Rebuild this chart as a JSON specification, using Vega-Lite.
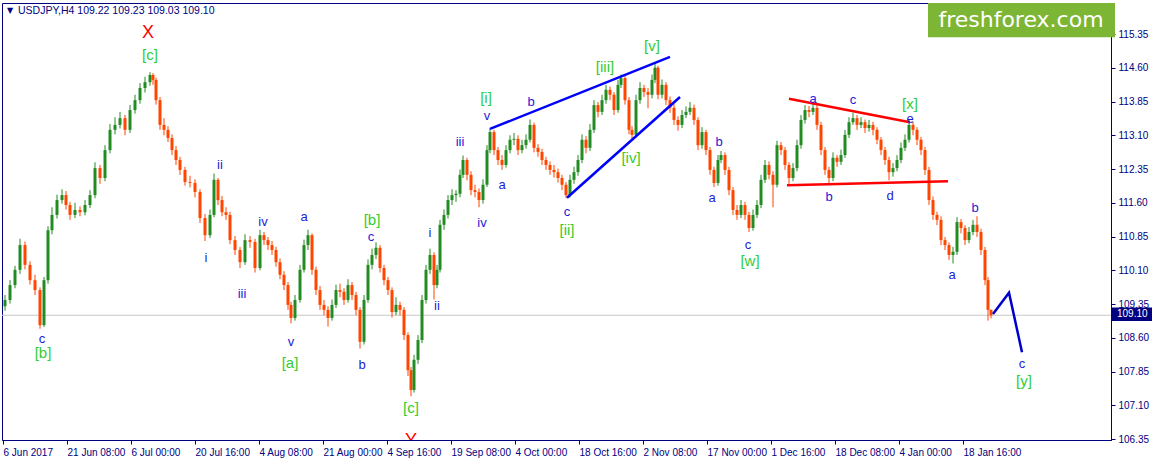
{
"$schema": "https://vega.github.io/schema/vega-lite/v6.json",
"width": 1109, "height": 437,
"autosize": {"type": "none"},
"padding": {"left": 2, "top": 3, "right": 44, "bottom": 22},
"background": "white",
"config": {"view": {"stroke": "#000080", "strokeWidth": 1}, "text": {"font": "Liberation Sans"}, "axis": {"labelOverlap": false, "labelBound": false, "labelSeparation": 0}},
"datasets": {
"hline": [{"bar": 2, "price": 109.10}, {"bar": 1111, "price": 109.10}],
"candles": [
{"bar":5,"o":109.30,"h":109.55,"l":109.20,"c":109.44},
{"bar":10,"o":109.44,"h":109.88,"l":109.36,"c":109.77},
{"bar":15,"o":109.77,"h":110.20,"l":109.70,"c":110.11},
{"bar":20,"o":110.11,"h":110.80,"l":110.02,"c":110.66},
{"bar":25,"o":110.66,"h":110.74,"l":110.12,"c":110.22},
{"bar":30,"o":110.22,"h":110.30,"l":109.78,"c":109.88},
{"bar":35,"o":109.88,"h":110.00,"l":109.55,"c":109.66},
{"bar":40,"o":109.66,"h":109.72,"l":108.80,"c":108.88},
{"bar":44,"o":108.88,"h":109.95,"l":108.84,"c":109.88},
{"bar":48,"o":109.88,"h":111.08,"l":109.80,"c":110.99},
{"bar":52,"o":110.99,"h":111.50,"l":110.90,"c":111.33},
{"bar":57,"o":111.33,"h":111.78,"l":111.25,"c":111.66},
{"bar":62,"o":111.66,"h":111.90,"l":111.58,"c":111.77},
{"bar":66,"o":111.77,"h":111.86,"l":111.45,"c":111.55},
{"bar":70,"o":111.55,"h":111.62,"l":111.22,"c":111.33},
{"bar":75,"o":111.33,"h":111.60,"l":111.26,"c":111.44},
{"bar":80,"o":111.44,"h":111.52,"l":111.30,"c":111.39},
{"bar":85,"o":111.39,"h":111.66,"l":111.32,"c":111.55},
{"bar":90,"o":111.55,"h":111.88,"l":111.48,"c":111.77},
{"bar":95,"o":111.77,"h":112.50,"l":111.70,"c":112.37},
{"bar":100,"o":112.37,"h":112.44,"l":112.02,"c":112.15},
{"bar":105,"o":112.15,"h":112.88,"l":112.08,"c":112.77},
{"bar":110,"o":112.77,"h":113.35,"l":112.70,"c":113.22},
{"bar":115,"o":113.22,"h":113.50,"l":113.12,"c":113.33},
{"bar":120,"o":113.33,"h":113.62,"l":113.25,"c":113.48},
{"bar":125,"o":113.48,"h":113.55,"l":113.10,"c":113.22},
{"bar":130,"o":113.22,"h":113.77,"l":113.15,"c":113.66},
{"bar":135,"o":113.66,"h":114.00,"l":113.58,"c":113.88},
{"bar":140,"o":113.88,"h":114.26,"l":113.80,"c":114.15},
{"bar":145,"o":114.15,"h":114.40,"l":114.05,"c":114.28},
{"bar":150,"o":114.28,"h":114.50,"l":114.20,"c":114.44},
{"bar":153,"o":114.44,"h":114.48,"l":114.22,"c":114.33},
{"bar":156,"o":114.33,"h":114.38,"l":113.78,"c":113.88},
{"bar":160,"o":113.88,"h":113.95,"l":113.22,"c":113.33},
{"bar":164,"o":113.33,"h":113.48,"l":113.10,"c":113.22},
{"bar":168,"o":113.22,"h":113.30,"l":112.95,"c":113.04},
{"bar":172,"o":113.04,"h":113.12,"l":112.66,"c":112.77},
{"bar":176,"o":112.77,"h":112.86,"l":112.44,"c":112.55},
{"bar":180,"o":112.55,"h":112.62,"l":112.22,"c":112.33},
{"bar":185,"o":112.33,"h":112.40,"l":111.98,"c":112.06},
{"bar":190,"o":112.06,"h":112.20,"l":111.94,"c":112.04},
{"bar":195,"o":112.04,"h":112.12,"l":111.72,"c":111.84},
{"bar":200,"o":111.84,"h":111.90,"l":111.15,"c":111.26},
{"bar":205,"o":111.26,"h":111.35,"l":110.75,"c":110.88},
{"bar":210,"o":110.88,"h":111.45,"l":110.82,"c":111.33},
{"bar":214,"o":111.33,"h":112.25,"l":111.28,"c":112.11},
{"bar":218,"o":112.11,"h":112.15,"l":111.55,"c":111.66},
{"bar":222,"o":111.66,"h":111.75,"l":111.30,"c":111.39},
{"bar":226,"o":111.39,"h":111.50,"l":111.22,"c":111.33},
{"bar":230,"o":111.33,"h":111.40,"l":110.68,"c":110.77},
{"bar":235,"o":110.77,"h":110.86,"l":110.44,"c":110.55},
{"bar":240,"o":110.55,"h":110.62,"l":110.15,"c":110.28},
{"bar":245,"o":110.28,"h":110.90,"l":110.22,"c":110.77},
{"bar":250,"o":110.77,"h":110.86,"l":110.60,"c":110.73},
{"bar":255,"o":110.73,"h":110.80,"l":110.05,"c":110.15},
{"bar":260,"o":110.15,"h":111.00,"l":110.10,"c":110.88},
{"bar":264,"o":110.88,"h":110.95,"l":110.66,"c":110.77},
{"bar":268,"o":110.77,"h":110.84,"l":110.55,"c":110.66},
{"bar":272,"o":110.66,"h":110.75,"l":110.44,"c":110.55},
{"bar":276,"o":110.55,"h":110.62,"l":110.18,"c":110.28},
{"bar":280,"o":110.28,"h":110.36,"l":109.90,"c":110.00},
{"bar":284,"o":110.00,"h":110.08,"l":109.66,"c":109.77},
{"bar":288,"o":109.77,"h":109.84,"l":109.22,"c":109.33},
{"bar":291,"o":109.33,"h":109.40,"l":108.92,"c":109.04},
{"bar":295,"o":109.04,"h":109.55,"l":108.98,"c":109.44},
{"bar":300,"o":109.44,"h":110.22,"l":109.38,"c":110.11},
{"bar":304,"o":110.11,"h":110.78,"l":110.05,"c":110.66},
{"bar":308,"o":110.66,"h":111.00,"l":110.55,"c":110.88},
{"bar":312,"o":110.88,"h":110.92,"l":110.00,"c":110.11},
{"bar":316,"o":110.11,"h":110.18,"l":109.55,"c":109.66},
{"bar":320,"o":109.66,"h":109.75,"l":109.22,"c":109.33},
{"bar":324,"o":109.33,"h":109.44,"l":109.10,"c":109.22},
{"bar":328,"o":109.22,"h":109.30,"l":108.85,"c":109.04},
{"bar":332,"o":109.04,"h":109.45,"l":108.98,"c":109.33},
{"bar":336,"o":109.33,"h":109.78,"l":109.26,"c":109.66},
{"bar":340,"o":109.66,"h":109.80,"l":109.50,"c":109.62},
{"bar":344,"o":109.62,"h":109.70,"l":109.33,"c":109.44},
{"bar":348,"o":109.44,"h":109.90,"l":109.38,"c":109.77},
{"bar":352,"o":109.77,"h":109.84,"l":109.44,"c":109.55},
{"bar":356,"o":109.55,"h":109.62,"l":109.10,"c":109.22},
{"bar":360,"o":109.22,"h":109.28,"l":108.36,"c":108.51},
{"bar":364,"o":108.51,"h":109.55,"l":108.45,"c":109.44},
{"bar":368,"o":109.44,"h":110.34,"l":109.38,"c":110.22},
{"bar":372,"o":110.22,"h":110.58,"l":110.12,"c":110.44},
{"bar":376,"o":110.44,"h":110.72,"l":110.35,"c":110.60},
{"bar":380,"o":110.60,"h":110.66,"l":110.05,"c":110.15},
{"bar":384,"o":110.15,"h":110.22,"l":109.77,"c":109.88},
{"bar":388,"o":109.88,"h":109.95,"l":109.55,"c":109.66},
{"bar":392,"o":109.66,"h":109.72,"l":109.05,"c":109.17},
{"bar":396,"o":109.17,"h":109.50,"l":109.10,"c":109.33},
{"bar":400,"o":109.33,"h":109.40,"l":109.10,"c":109.22},
{"bar":404,"o":109.22,"h":109.28,"l":108.55,"c":108.66},
{"bar":408,"o":108.66,"h":108.72,"l":107.75,"c":107.88},
{"bar":411,"o":107.88,"h":107.95,"l":107.30,"c":107.44},
{"bar":414,"o":107.44,"h":108.22,"l":107.38,"c":108.11},
{"bar":418,"o":108.11,"h":108.66,"l":108.02,"c":108.55},
{"bar":422,"o":108.55,"h":109.55,"l":108.48,"c":109.44},
{"bar":426,"o":109.44,"h":110.22,"l":109.36,"c":110.11},
{"bar":430,"o":110.11,"h":110.58,"l":110.02,"c":110.44},
{"bar":434,"o":110.44,"h":110.50,"l":109.45,"c":109.77},
{"bar":437,"o":109.77,"h":110.22,"l":109.70,"c":110.11},
{"bar":440,"o":110.11,"h":111.22,"l":110.05,"c":111.11},
{"bar":444,"o":111.11,"h":111.45,"l":111.00,"c":111.33},
{"bar":448,"o":111.33,"h":111.77,"l":111.25,"c":111.66},
{"bar":452,"o":111.66,"h":111.90,"l":111.55,"c":111.77},
{"bar":456,"o":111.77,"h":111.88,"l":111.62,"c":111.80},
{"bar":460,"o":111.80,"h":112.34,"l":111.72,"c":112.22},
{"bar":463,"o":112.22,"h":112.65,"l":112.15,"c":112.55},
{"bar":467,"o":112.55,"h":112.60,"l":112.10,"c":112.22},
{"bar":471,"o":112.22,"h":112.30,"l":111.77,"c":111.88},
{"bar":475,"o":111.88,"h":112.00,"l":111.72,"c":111.84},
{"bar":479,"o":111.84,"h":111.92,"l":111.50,"c":111.66},
{"bar":483,"o":111.66,"h":112.12,"l":111.58,"c":112.00},
{"bar":487,"o":112.00,"h":112.88,"l":111.95,"c":112.77},
{"bar":490,"o":112.77,"h":113.26,"l":112.70,"c":113.17},
{"bar":494,"o":113.17,"h":113.22,"l":112.66,"c":112.77},
{"bar":498,"o":112.77,"h":112.84,"l":112.44,"c":112.55},
{"bar":502,"o":112.55,"h":112.66,"l":112.33,"c":112.44},
{"bar":506,"o":112.44,"h":112.88,"l":112.38,"c":112.77},
{"bar":510,"o":112.77,"h":113.10,"l":112.70,"c":113.00},
{"bar":514,"o":113.00,"h":113.15,"l":112.88,"c":113.02},
{"bar":518,"o":113.02,"h":113.10,"l":112.66,"c":112.77},
{"bar":522,"o":112.77,"h":113.00,"l":112.70,"c":112.88},
{"bar":526,"o":112.88,"h":113.12,"l":112.80,"c":113.00},
{"bar":530,"o":113.00,"h":113.45,"l":112.94,"c":113.33},
{"bar":534,"o":113.33,"h":113.38,"l":112.72,"c":112.82},
{"bar":538,"o":112.82,"h":112.90,"l":112.62,"c":112.73},
{"bar":542,"o":112.73,"h":112.80,"l":112.44,"c":112.55},
{"bar":546,"o":112.55,"h":112.62,"l":112.33,"c":112.44},
{"bar":550,"o":112.44,"h":112.52,"l":112.22,"c":112.33},
{"bar":554,"o":112.33,"h":112.44,"l":112.16,"c":112.28},
{"bar":558,"o":112.28,"h":112.36,"l":112.05,"c":112.15},
{"bar":562,"o":112.15,"h":112.22,"l":111.88,"c":112.00},
{"bar":566,"o":112.00,"h":112.06,"l":111.70,"c":111.77},
{"bar":570,"o":111.77,"h":112.22,"l":111.72,"c":112.11},
{"bar":574,"o":112.11,"h":112.40,"l":112.02,"c":112.28},
{"bar":578,"o":112.28,"h":112.66,"l":112.20,"c":112.55},
{"bar":582,"o":112.55,"h":113.12,"l":112.48,"c":113.00},
{"bar":586,"o":113.00,"h":113.08,"l":112.70,"c":112.82},
{"bar":590,"o":112.82,"h":113.35,"l":112.75,"c":113.22},
{"bar":594,"o":113.22,"h":113.88,"l":113.15,"c":113.77},
{"bar":598,"o":113.77,"h":113.84,"l":113.50,"c":113.62},
{"bar":602,"o":113.62,"h":114.00,"l":113.55,"c":113.88},
{"bar":606,"o":113.88,"h":114.22,"l":113.80,"c":114.11},
{"bar":610,"o":114.11,"h":114.18,"l":113.88,"c":114.00},
{"bar":614,"o":114.00,"h":114.06,"l":113.55,"c":113.66},
{"bar":618,"o":113.66,"h":114.33,"l":113.60,"c":114.22},
{"bar":621,"o":114.22,"h":114.45,"l":114.15,"c":114.37},
{"bar":625,"o":114.37,"h":114.42,"l":113.78,"c":113.88},
{"bar":629,"o":113.88,"h":113.95,"l":113.12,"c":113.22},
{"bar":632,"o":113.22,"h":113.30,"l":112.98,"c":113.11},
{"bar":636,"o":113.11,"h":114.00,"l":113.05,"c":113.88},
{"bar":640,"o":113.88,"h":114.28,"l":113.80,"c":114.15},
{"bar":644,"o":114.15,"h":114.22,"l":113.95,"c":114.06},
{"bar":648,"o":114.06,"h":114.15,"l":113.70,"c":114.00},
{"bar":652,"o":114.00,"h":114.45,"l":113.92,"c":114.33},
{"bar":655,"o":114.33,"h":114.72,"l":114.26,"c":114.60},
{"bar":658,"o":114.60,"h":114.64,"l":113.90,"c":114.00},
{"bar":662,"o":114.00,"h":114.34,"l":113.92,"c":114.22},
{"bar":666,"o":114.22,"h":114.28,"l":113.77,"c":113.88},
{"bar":670,"o":113.88,"h":113.96,"l":113.60,"c":113.71},
{"bar":674,"o":113.71,"h":113.80,"l":113.33,"c":113.44},
{"bar":678,"o":113.44,"h":113.52,"l":113.20,"c":113.33},
{"bar":682,"o":113.33,"h":113.66,"l":113.26,"c":113.55},
{"bar":686,"o":113.55,"h":113.74,"l":113.48,"c":113.62},
{"bar":690,"o":113.62,"h":113.84,"l":113.55,"c":113.71},
{"bar":694,"o":113.71,"h":113.78,"l":113.33,"c":113.44},
{"bar":698,"o":113.44,"h":113.50,"l":112.77,"c":112.88},
{"bar":702,"o":112.88,"h":113.28,"l":112.80,"c":113.17},
{"bar":706,"o":113.17,"h":113.22,"l":112.66,"c":112.77},
{"bar":710,"o":112.77,"h":112.84,"l":112.22,"c":112.33},
{"bar":714,"o":112.33,"h":112.40,"l":111.95,"c":112.04},
{"bar":718,"o":112.04,"h":112.66,"l":111.98,"c":112.55},
{"bar":721,"o":112.55,"h":112.75,"l":112.48,"c":112.66},
{"bar":725,"o":112.66,"h":112.72,"l":112.22,"c":112.33},
{"bar":729,"o":112.33,"h":112.40,"l":111.77,"c":111.88},
{"bar":733,"o":111.88,"h":111.95,"l":111.33,"c":111.44},
{"bar":737,"o":111.44,"h":111.55,"l":111.22,"c":111.33},
{"bar":741,"o":111.33,"h":111.66,"l":111.26,"c":111.55},
{"bar":745,"o":111.55,"h":111.62,"l":111.22,"c":111.33},
{"bar":749,"o":111.33,"h":111.40,"l":110.95,"c":111.04},
{"bar":753,"o":111.04,"h":111.45,"l":110.98,"c":111.33},
{"bar":757,"o":111.33,"h":111.66,"l":111.26,"c":111.55},
{"bar":761,"o":111.55,"h":112.22,"l":111.48,"c":112.11},
{"bar":765,"o":112.11,"h":112.55,"l":112.04,"c":112.44},
{"bar":769,"o":112.44,"h":112.52,"l":112.12,"c":112.22},
{"bar":773,"o":112.22,"h":112.30,"l":111.50,"c":112.00},
{"bar":777,"o":112.00,"h":112.98,"l":111.94,"c":112.88},
{"bar":781,"o":112.88,"h":112.95,"l":112.66,"c":112.77},
{"bar":785,"o":112.77,"h":112.84,"l":112.33,"c":112.44},
{"bar":789,"o":112.44,"h":112.50,"l":112.02,"c":112.15},
{"bar":793,"o":112.15,"h":112.48,"l":112.08,"c":112.37},
{"bar":797,"o":112.37,"h":113.00,"l":112.30,"c":112.88},
{"bar":801,"o":112.88,"h":113.55,"l":112.80,"c":113.44},
{"bar":805,"o":113.44,"h":113.77,"l":113.36,"c":113.66},
{"bar":809,"o":113.66,"h":113.75,"l":113.50,"c":113.62},
{"bar":813,"o":113.62,"h":113.85,"l":113.55,"c":113.71},
{"bar":817,"o":113.71,"h":113.78,"l":113.22,"c":113.33},
{"bar":821,"o":113.33,"h":113.40,"l":112.66,"c":112.77},
{"bar":825,"o":112.77,"h":112.84,"l":112.22,"c":112.33},
{"bar":829,"o":112.33,"h":112.40,"l":112.02,"c":112.15},
{"bar":833,"o":112.15,"h":112.72,"l":112.08,"c":112.60},
{"bar":837,"o":112.60,"h":112.66,"l":112.40,"c":112.51},
{"bar":841,"o":112.51,"h":112.78,"l":112.44,"c":112.66},
{"bar":845,"o":112.66,"h":113.22,"l":112.60,"c":113.11},
{"bar":849,"o":113.11,"h":113.50,"l":113.04,"c":113.39},
{"bar":853,"o":113.39,"h":113.60,"l":113.33,"c":113.48},
{"bar":857,"o":113.48,"h":113.55,"l":113.22,"c":113.33},
{"bar":861,"o":113.33,"h":113.50,"l":113.26,"c":113.39},
{"bar":865,"o":113.39,"h":113.45,"l":113.15,"c":113.26},
{"bar":869,"o":113.26,"h":113.44,"l":113.18,"c":113.33},
{"bar":873,"o":113.33,"h":113.40,"l":113.10,"c":113.22},
{"bar":877,"o":113.22,"h":113.28,"l":112.90,"c":113.00},
{"bar":881,"o":113.00,"h":113.06,"l":112.66,"c":112.77},
{"bar":885,"o":112.77,"h":112.84,"l":112.44,"c":112.55},
{"bar":889,"o":112.55,"h":112.62,"l":112.10,"c":112.28},
{"bar":893,"o":112.28,"h":112.48,"l":112.18,"c":112.37},
{"bar":897,"o":112.37,"h":112.66,"l":112.30,"c":112.55},
{"bar":901,"o":112.55,"h":112.94,"l":112.48,"c":112.82},
{"bar":905,"o":112.82,"h":113.12,"l":112.75,"c":113.00},
{"bar":909,"o":113.00,"h":113.45,"l":112.94,"c":113.33},
{"bar":913,"o":113.33,"h":113.40,"l":113.10,"c":113.22},
{"bar":917,"o":113.22,"h":113.28,"l":112.88,"c":113.00},
{"bar":921,"o":113.00,"h":113.06,"l":112.66,"c":112.77},
{"bar":925,"o":112.77,"h":112.84,"l":112.22,"c":112.33},
{"bar":929,"o":112.33,"h":112.40,"l":111.55,"c":111.66},
{"bar":933,"o":111.66,"h":111.74,"l":111.22,"c":111.33},
{"bar":937,"o":111.33,"h":111.40,"l":111.10,"c":111.22},
{"bar":941,"o":111.22,"h":111.30,"l":110.66,"c":110.77},
{"bar":945,"o":110.77,"h":110.84,"l":110.55,"c":110.66},
{"bar":949,"o":110.66,"h":110.72,"l":110.33,"c":110.44},
{"bar":953,"o":110.44,"h":110.62,"l":110.25,"c":110.51},
{"bar":957,"o":110.51,"h":111.28,"l":110.44,"c":111.17},
{"bar":961,"o":111.17,"h":111.24,"l":110.92,"c":111.04},
{"bar":965,"o":111.04,"h":111.10,"l":110.66,"c":110.77},
{"bar":969,"o":110.77,"h":111.06,"l":110.70,"c":110.95},
{"bar":973,"o":110.95,"h":111.22,"l":110.88,"c":111.11},
{"bar":977,"o":111.11,"h":111.30,"l":110.84,"c":110.95},
{"bar":981,"o":110.95,"h":111.02,"l":110.44,"c":110.55},
{"bar":985,"o":110.55,"h":110.62,"l":109.77,"c":109.88},
{"bar":988,"o":109.88,"h":109.95,"l":108.98,"c":109.22},
{"bar":991,"o":109.22,"h":109.23,"l":109.03,"c":109.10}
],
"lines": [
{"g":"w1","bar":490,"price":113.24},{"g":"w1","bar":670,"price":114.84},
{"g":"w2","bar":567,"price":111.71},{"g":"w2","bar":680,"price":113.95},
{"g":"t1","bar":789,"price":113.91},{"g":"t1","bar":910,"price":113.39},
{"g":"t2","bar":787,"price":111.99},{"g":"t2","bar":948,"price":112.08},
{"g":"p","bar":993,"price":109.13},{"g":"p","bar":1009,"price":109.60},{"g":"p","bar":1022,"price":108.28}
],
"labels": [
{"k":"r","t":"X","bar":148,"price":115.37},
{"k":"g","t":"[c]","bar":150,"price":114.88},
{"k":"b","t":"c","bar":42,"price":108.58},
{"k":"g","t":"[b]","bar":43,"price":108.26},
{"k":"b","t":"ii","bar":220,"price":112.44},
{"k":"b","t":"i","bar":206,"price":110.37},
{"k":"b","t":"iii","bar":242,"price":109.57},
{"k":"b","t":"iv","bar":263,"price":111.17},
{"k":"b","t":"v","bar":291,"price":108.51},
{"k":"g","t":"[a]","bar":290,"price":108.04},
{"k":"b","t":"a","bar":304,"price":111.28},
{"k":"b","t":"b","bar":362,"price":107.99},
{"k":"b","t":"c","bar":371,"price":110.84},
{"k":"g","t":"[b]","bar":372,"price":111.22},
{"k":"g","t":"[c]","bar":411,"price":107.04},
{"k":"r","t":"Y","bar":411,"price":106.30},
{"k":"b","t":"i","bar":430,"price":110.93},
{"k":"b","t":"ii","bar":437,"price":109.31},
{"k":"b","t":"iii","bar":460,"price":112.95},
{"k":"b","t":"iv","bar":482,"price":111.15},
{"k":"b","t":"v","bar":487,"price":113.53},
{"k":"g","t":"[i]","bar":486,"price":113.93},
{"k":"b","t":"a","bar":502,"price":112.00},
{"k":"b","t":"b","bar":531,"price":113.84},
{"k":"b","t":"c","bar":567,"price":111.40},
{"k":"g","t":"[ii]","bar":567,"price":111.00},
{"k":"g","t":"[iii]","bar":605,"price":114.62},
{"k":"g","t":"[iv]","bar":631,"price":112.60},
{"k":"g","t":"[v]","bar":652,"price":115.08},
{"k":"b","t":"a","bar":712,"price":111.71},
{"k":"b","t":"b","bar":719,"price":112.95},
{"k":"b","t":"c","bar":748,"price":110.66},
{"k":"g","t":"[w]","bar":750,"price":110.31},
{"k":"b","t":"a","bar":813,"price":113.91},
{"k":"b","t":"c","bar":853,"price":113.88},
{"k":"b","t":"b","bar":829,"price":111.73},
{"k":"b","t":"d","bar":890,"price":111.75},
{"k":"b","t":"e","bar":910,"price":113.46},
{"k":"g","t":"[x]","bar":910,"price":113.80},
{"k":"b","t":"a","bar":952,"price":110.00},
{"k":"b","t":"b","bar":975,"price":111.48},
{"k":"b","t":"c","bar":1022,"price":108.02},
{"k":"g","t":"[y]","bar":1024,"price":107.64}
]
},
"layer": [
{"data": {"name": "hline"}, "mark": {"type": "line", "color": "#c8c8c8", "strokeWidth": 1},
 "encoding": {
  "x": {"field": "bar", "type": "quantitative", "title": null, "scale": {"domain": [2, 1111], "nice": false, "zero": false},
   "axis": {"title": null, "orient": "bottom", "values": [3,67,131,195,259,323,387,451,515,579,643,707,771,835,899,963], "tickCount": 50,
    "labelExpr": "['6 Jun 2017','21 Jun 08:00','6 Jul 00:00','20 Jul 16:00','4 Aug 08:00','21 Aug 00:00','4 Sep 16:00','19 Sep 08:00','4 Oct 00:00','18 Oct 16:00','2 Nov 08:00','17 Nov 00:00','1 Dec 16:00','18 Dec 08:00','4 Jan 00:00','18 Jan 16:00'][round((datum.value-3)/64)]",
    "labelAlign": "left", "labelPadding": 3, "tickSize": 4, "tickColor": "#000080", "domainColor": "#000080", "labelColor": "#000080", "labelFont": "Liberation Sans", "labelFontSize": 10, "grid": false, "labelOverlap": false, "labelFlush": false}},
  "y": {"field": "price", "type": "quantitative", "title": null, "scale": {"domain": [106.328, 116.039], "nice": false, "zero": false},
   "axis": {"title": null, "orient": "right", "values": [106.35,107.1,107.85,108.6,109.35,110.1,110.85,111.6,112.35,113.1,113.85,114.6,115.35], "tickCount": 50, "format": ".2f", "tickSize": 4, "labelPadding": 3, "tickColor": "#000080", "domainColor": "#000080", "labelColor": "#000080", "labelFont": "Liberation Sans", "labelFontSize": 10, "grid": false, "labelFlush": false, "labelOverlap": false}}
 }},
{"data": {"name": "candles"}, "mark": {"type": "rule", "strokeWidth": 1},
 "encoding": {
  "x": {"field": "bar", "type": "quantitative", "title": null, "scale": {"domain": [2, 1111], "nice": false, "zero": false}},
  "y": {"field": "l", "type": "quantitative", "title": null, "scale": {"domain": [106.328, 116.039], "nice": false, "zero": false}},
  "y2": {"field": "h"},
  "color": {"condition": {"test": "datum.c >= datum.o", "value": "#228b22"}, "value": "#ff4500"}
 }},
{"data": {"name": "candles"}, "mark": {"type": "rule", "strokeWidth": 3, "strokeCap": "butt"},
 "encoding": {
  "x": {"field": "bar", "type": "quantitative", "title": null, "scale": {"domain": [2, 1111], "nice": false, "zero": false}},
  "y": {"field": "o", "type": "quantitative", "title": null, "scale": {"domain": [106.328, 116.039], "nice": false, "zero": false}},
  "y2": {"field": "c"},
  "color": {"condition": {"test": "datum.c >= datum.o", "value": "#228b22"}, "value": "#ff4500"}
 }},
{"data": {"name": "lines"}, "mark": {"type": "line", "strokeWidth": 2.5},
 "encoding": {
  "x": {"field": "bar", "type": "quantitative", "title": null, "scale": {"domain": [2, 1111], "nice": false, "zero": false}},
  "y": {"field": "price", "type": "quantitative", "title": null, "scale": {"domain": [106.328, 116.039], "nice": false, "zero": false}},
  "detail": {"field": "g"},
  "color": {"field": "g", "type": "nominal", "scale": {"domain": ["w1","w2","t1","t2","p"], "range": ["#0000ff","#0000ff","#ff0000","#ff0000","#0000cc"]}, "legend": null}
 }},
{"data": {"name": "labels"}, "transform": [{"filter": "datum.k == 'b'"}],
 "mark": {"type": "text", "font": "Liberation Sans", "fontSize": 13, "color": "#1c1cd8", "align": "center", "baseline": "middle"},
 "encoding": {
  "x": {"field": "bar", "type": "quantitative", "title": null, "scale": {"domain": [2, 1111], "nice": false, "zero": false}},
  "y": {"field": "price", "type": "quantitative", "title": null, "scale": {"domain": [106.328, 116.039], "nice": false, "zero": false}},
  "text": {"field": "t"}
 }},
{"data": {"name": "labels"}, "transform": [{"filter": "datum.k == 'g'"}],
 "mark": {"type": "text", "font": "Liberation Sans", "fontSize": 15, "color": "#32cd32", "align": "center", "baseline": "middle"},
 "encoding": {
  "x": {"field": "bar", "type": "quantitative", "title": null, "scale": {"domain": [2, 1111], "nice": false, "zero": false}},
  "y": {"field": "price", "type": "quantitative", "title": null, "scale": {"domain": [106.328, 116.039], "nice": false, "zero": false}},
  "text": {"field": "t"}
 }},
{"data": {"name": "labels"}, "transform": [{"filter": "datum.k == 'r'"}],
 "mark": {"type": "text", "font": "Liberation Sans", "fontSize": 18, "color": "#ff0000", "align": "center", "baseline": "middle", "clip": true},
 "encoding": {
  "x": {"field": "bar", "type": "quantitative", "title": null, "scale": {"domain": [2, 1111], "nice": false, "zero": false}},
  "y": {"field": "price", "type": "quantitative", "title": null, "scale": {"domain": [106.328, 116.039], "nice": false, "zero": false}},
  "text": {"field": "t"}
 }},
{"data": {"values": [{}]}, "mark": {"type": "rect", "color": "#7db534"},
 "encoding": {
  "x": {"datum": 928, "type": "quantitative", "title": null, "scale": {"domain": [2, 1111], "nice": false, "zero": false}},
  "x2": {"datum": 1115},
  "y": {"datum": 116.039, "type": "quantitative", "title": null, "scale": {"domain": [106.328, 116.039], "nice": false, "zero": false}},
  "y2": {"datum": 115.28}
 }},
{"data": {"values": [{}]}, "mark": {"type": "text", "text": "freshforex.com", "color": "#ffffff", "font": "DejaVu Sans", "fontSize": 22, "align": "center", "baseline": "middle"},
 "encoding": {
  "x": {"datum": 1021, "type": "quantitative", "title": null, "scale": {"domain": [2, 1111], "nice": false, "zero": false}},
  "y": {"datum": 115.66, "type": "quantitative", "title": null, "scale": {"domain": [106.328, 116.039], "nice": false, "zero": false}}
 }},
{"data": {"values": [{}]}, "mark": {"type": "text", "text": "USDJPY,H4  109.22 109.23 109.03 109.10", "color": "#000080", "font": "Liberation Sans", "fontSize": 10.5, "align": "left", "baseline": "middle"},
 "encoding": {
  "x": {"datum": 18, "type": "quantitative", "title": null, "scale": {"domain": [2, 1111], "nice": false, "zero": false}},
  "y": {"datum": 115.86, "type": "quantitative", "title": null, "scale": {"domain": [106.328, 116.039], "nice": false, "zero": false}}
 }},
{"data": {"values": [{}]}, "mark": {"type": "text", "text": "▼", "color": "#000080", "font": "DejaVu Sans", "fontSize": 8, "align": "center", "baseline": "middle"},
 "encoding": {
  "x": {"datum": 10, "type": "quantitative", "title": null, "scale": {"domain": [2, 1111], "nice": false, "zero": false}},
  "y": {"datum": 115.86, "type": "quantitative", "title": null, "scale": {"domain": [106.328, 116.039], "nice": false, "zero": false}}
 }},
{"data": {"values": [{}]}, "mark": {"type": "rect", "color": "#000080"},
 "encoding": {
  "x": {"datum": 1111, "type": "quantitative", "title": null, "scale": {"domain": [2, 1111], "nice": false, "zero": false}},
  "x2": {"datum": 1152},
  "y": {"datum": 109.27, "type": "quantitative", "title": null, "scale": {"domain": [106.328, 116.039], "nice": false, "zero": false}},
  "y2": {"datum": 108.97}
 }},
{"data": {"values": [{}]}, "mark": {"type": "text", "text": "109.10", "color": "#ffffff", "font": "Liberation Sans", "fontSize": 10, "align": "left", "baseline": "middle"},
 "encoding": {
  "x": {"datum": 1117, "type": "quantitative", "title": null, "scale": {"domain": [2, 1111], "nice": false, "zero": false}},
  "y": {"datum": 109.12, "type": "quantitative", "title": null, "scale": {"domain": [106.328, 116.039], "nice": false, "zero": false}}
 }}
]
}
